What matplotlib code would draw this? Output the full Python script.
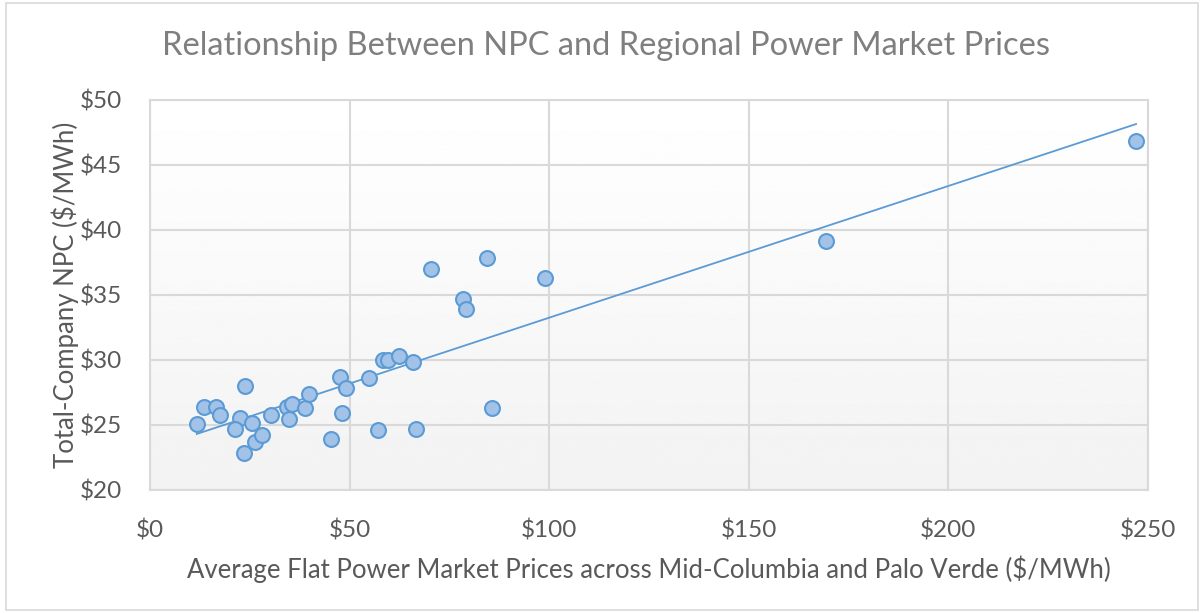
import numpy as np
import matplotlib.pyplot as plt
from matplotlib.patches import Rectangle

plt.rcParams['font.family'] = ['Lato', 'DejaVu Sans']

# market price ($/MWh) vs total-company NPC ($/MWh)
market_price = [11.7, 13.4, 16.5, 17.6, 23.7, 22.5, 21.4, 25.6, 23.6, 26.3,
                28.1, 30.2, 34.3, 35.6, 34.7, 38.9, 39.9, 45.4, 47.7, 49.1,
                48.1, 54.9, 70.3, 58.4, 59.5, 62.4, 66.0, 57.1, 66.6, 78.5,
                79.2, 84.5, 98.9, 85.7, 169.4, 247.0]
npc = [25.05, 26.41, 26.40, 25.79, 28.03, 25.54, 24.67, 25.13, 22.82, 23.69,
       24.23, 25.79, 26.41, 26.59, 25.44, 26.31, 27.41, 23.92, 28.72, 27.87,
       25.95, 28.59, 37.00, 30.00, 30.00, 30.33, 29.87, 24.62, 24.72, 34.67,
       33.90, 37.82, 36.33, 26.31, 39.13, 46.82]

x_ticks = [0, 50, 100, 150, 200, 250]
y_ticks = [20, 25, 30, 35, 40, 45, 50]

text_grey = '#595959'
grid_grey = '#d9d9d9'
blue = '#5b9bd5'

fig = plt.figure(figsize=(12.04, 6.13), dpi=100)
fig.patches.append(Rectangle((0.005, 0.005), 0.99, 0.99, transform=fig.transFigure,
                             fill=False, edgecolor='#d9d9d9', linewidth=1.2))
ax = fig.add_axes([0.1246, 0.2007, 0.8289, 0.6362])

# gradient fill of the plot area (white at top, light grey at bottom)
ax.imshow(np.linspace(0.95, 1.0, 256).reshape(-1, 1), extent=[0, 250, 20, 50],
          aspect='auto', cmap='gray', vmin=0, vmax=1, zorder=0, origin='lower')

ax.set_xlim(0, 250)
ax.set_ylim(20, 50)
ax.set_xticks(x_ticks)
ax.set_yticks(y_ticks)
ax.set_xticklabels(['$%d' % v for v in x_ticks])
ax.set_yticklabels(['$%d' % v for v in y_ticks])
ax.grid(True, color=grid_grey, linewidth=1.5, zorder=1)
ax.set_axisbelow(True)
for s in ax.spines.values():
    s.set_color(grid_grey)
    s.set_linewidth(1.5)
ax.tick_params(length=0, labelsize=17.5, colors=text_grey)
ax.tick_params(axis='x', pad=21)
ax.tick_params(axis='y', pad=20)

# linear trendline
fit = np.polyfit(market_price, npc, 1)
xs = np.array([min(market_price), max(market_price)])
ax.plot(xs, np.polyval(fit, xs), color=blue, linewidth=1.3, zorder=3)

ax.scatter(market_price, npc, s=115, facecolor='#a3c2e8', edgecolor=blue,
           linewidth=1.5, zorder=4, clip_on=False)

fig.text(0.503, 0.925, 'Relationship Between NPC and Regional Power Market Prices',
         fontsize=23.5, color='#7f7f7f', ha='center', va='center')
ax.set_xlabel('Average Flat Power Market Prices across Mid-Columbia and Palo Verde ($/MWh)',
              fontsize=18.5, color=text_grey, labelpad=10)
ax.set_ylabel('Total-Company NPC ($/MWh)', fontsize=18.5, color=text_grey, labelpad=1)

fig.savefig('out.png', dpi=100)
